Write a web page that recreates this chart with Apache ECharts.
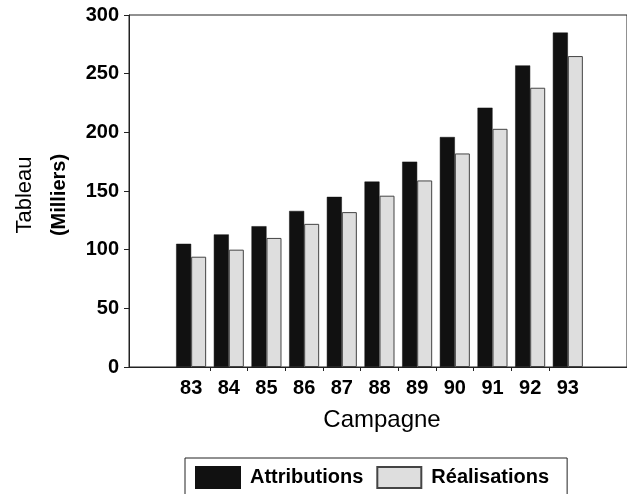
<!DOCTYPE html>
<html>
<head>
<meta charset="utf-8">
<script src="https://cdn.jsdelivr.net/npm/echarts@6/dist/echarts.min.js"></script>
<style>
html,body{margin:0;padding:0;background:#fff;}
#chart{width:627px;height:494px;}
</style>
</head>
<body>
<div id="chart"></div>
<script>
// Data
const campagnes = [83, 84, 85, 86, 87, 88, 89, 90, 91, 92, 93];
const attributions = [105, 113, 120, 133, 145, 158, 175, 196, 221, 257, 285];
const realisations = [94, 100, 110, 122, 132, 146, 159, 182, 203, 238, 265];
const seriesNames = ['Attributions', 'Réalisations'];
const yTickValues = [0, 50, 100, 150, 200, 250, 300];
const xTitle = 'Campagne';
const yTitle1 = 'Tableau';
const yTitle2 = '(Milliers)';

const tickBetween = campagnes.slice(0, -1).map((c, i) => (c + campagnes[i + 1]) / 2);
const FONT = '"Liberation Sans", Arial, Helvetica, sans-serif';

const chart = echarts.init(document.getElementById('chart'), null, {renderer: 'canvas'});
chart.setOption({
  animation: false,
  backgroundColor: '#ffffff',
  textStyle: {fontFamily: FONT, color: '#000'},
  grid: {
    left: 129, top: 15, right: -3, bottom: 127,
    show: true, borderColor: '#222', borderWidth: 1, backgroundColor: 'transparent'
  },
  legend: {
    data: seriesNames,
    left: 185, top: 458,
    orient: 'horizontal',
    padding: [8, 18, 10, 10],
    borderColor: '#222', borderWidth: 1,
    itemWidth: 44, itemHeight: 21, itemGap: 13,
    icon: 'rect',
    textStyle: {fontFamily: FONT, fontSize: 20, fontWeight: 'bold', color: '#000', padding: [0, 0, 0, 5]}
  },
  xAxis: {
    type: 'value',
    min: 81.35, max: 94.57,
    name: xTitle,
    nameLocation: 'middle',
    nameGap: 41,
    nameTextStyle: {fontFamily: FONT, fontSize: 24, color: '#000', padding: [0, 0, 0, 8]},
    axisLine: {show: true, lineStyle: {color: '#222', width: 1}},
    axisTick: {show: true, length: 4, customValues: tickBetween, lineStyle: {color: '#222'}},
    axisLabel: {
      customValues: campagnes,
      formatter: v => String(v),
      fontFamily: FONT, fontSize: 20, fontWeight: 'bold', color: '#000', margin: 11
    },
    splitLine: {show: false}
  },
  yAxis: {
    type: 'value',
    min: 0, max: 300, interval: 50,
    name: '{a|' + yTitle1 + '}\n{b|' + yTitle2 + '}',
    nameLocation: 'middle',
    nameRotate: 90,
    nameGap: 52,
    nameTextStyle: {
      padding: [0, 8, 0, 0],
      rich: {
        a: {fontFamily: FONT, fontSize: 22, color: '#000', lineHeight: 35},
        b: {fontFamily: FONT, fontSize: 20, fontWeight: 'bold', color: '#000', lineHeight: 35}
      }
    },
    axisLine: {show: true, lineStyle: {color: '#222', width: 1}},
    axisTick: {show: true, length: 5, lineStyle: {color: '#222'}},
    axisLabel: {
      customValues: yTickValues,
      fontFamily: FONT, fontSize: 20, fontWeight: 'bold', color: '#000', margin: 10,
      padding: [5, 0, 0, 0]
    },
    splitLine: {show: false}
  },
  series: [
    {
      name: seriesNames[0],
      type: 'bar',
      barWidth: 15,
      barGap: '0%',
      data: campagnes.map((c, i) => [c, attributions[i]]),
      itemStyle: {color: '#111111', borderColor: '#111111', borderWidth: 0.5}
    },
    {
      name: seriesNames[1],
      type: 'bar',
      barWidth: 15,
      barGap: '0%',
      data: campagnes.map((c, i) => [c, realisations[i]]),
      itemStyle: {color: '#dedede', borderColor: '#444444', borderWidth: 1}
    }
  ]
});
</script>
</body>
</html>
